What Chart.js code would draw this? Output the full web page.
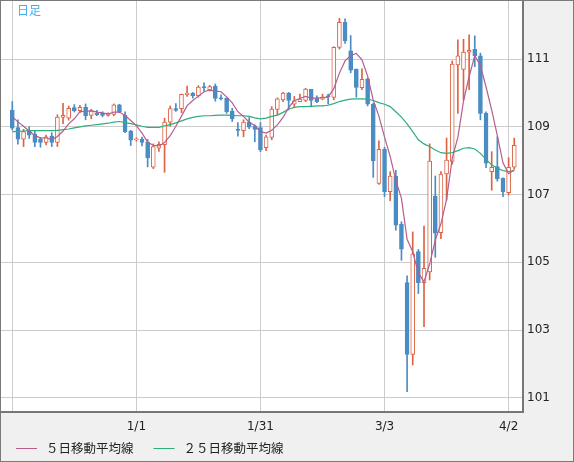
<!DOCTYPE html>
<html>
<head>
<meta charset="utf-8">
<script src="https://cdn.jsdelivr.net/npm/chart.js@4.4.1/dist/chart.umd.min.js"></script>
<style>
  html, body { margin: 0; padding: 0; background: #f0f0f0; }
  canvas { display: block; }
</style>
</head>
<body>
<canvas id="chart" width="574" height="462"></canvas>
<script>
// 日足 (daily candles), 2019/12/2 - 2020/4/3, one entry per trading day
const opens = [
    109.50, 108.98, 108.64, 108.88, 108.78, 108.64, 108.54, 108.73, 108.54, 109.28,
    109.26, 109.57, 109.48, 109.58, 109.34, 109.40, 109.40, 109.34, 109.37, 109.65,
    109.35, 108.88, 108.62, 108.64, 108.55, 107.81, 108.37, 108.48, 109.14, 109.54,
    109.54, 109.95, 110.00, 109.92, 110.19, 110.09, 110.20, 109.86, 109.85, 109.47,
    108.93, 108.89, 109.14, 109.03, 108.98, 108.39, 108.69, 109.52, 109.80, 110.00,
    109.67, 109.75, 109.78, 110.11, 109.85, 109.82, 109.92, 109.87, 111.35, 112.09,
    111.25, 110.71, 110.16, 110.42, 109.67, 107.33, 108.34, 107.09, 107.55, 106.13,
    104.40, 102.28, 105.32, 104.40, 104.72, 106.96, 105.88, 107.61, 107.98, 110.83,
    110.70, 111.21, 111.29, 111.10, 109.40, 107.68, 107.83, 107.48, 107.06, 107.81
];
const highs = [
    109.75, 109.21, 108.93, 109.01, 108.88, 108.69, 108.76, 108.83, 109.36, 109.70,
    109.62, 109.66, 109.64, 109.68, 109.52, 109.49, 109.45, 109.42, 109.68, 109.67,
    109.45, 108.90, 108.68, 108.70, 108.63, 108.50, 108.56, 109.26, 109.62, 109.69,
    109.97, 110.21, 110.02, 110.22, 110.30, 110.23, 110.27, 109.95, 109.86, 109.55,
    109.13, 109.21, 109.28, 109.06, 109.13, 108.76, 109.60, 109.86, 110.02, 110.02,
    109.90, 109.97, 110.14, 110.11, 109.92, 109.97, 109.97, 111.37, 112.21, 112.19,
    111.70, 110.71, 110.72, 110.44, 109.70, 108.59, 108.40, 107.68, 107.72, 106.20,
    104.60, 105.90, 105.38, 106.07, 108.50, 107.55, 107.68, 108.67, 110.95, 111.57,
    111.59, 111.72, 111.69, 111.18, 109.45, 108.27, 108.71, 107.50, 108.09, 108.67
];
const lows = [
    108.91, 108.49, 108.42, 108.66, 108.42, 108.40, 108.47, 108.42, 108.42, 109.10,
    109.20, 109.44, 109.42, 109.21, 109.24, 109.33, 109.30, 109.32, 109.33, 109.42,
    108.83, 108.45, 108.58, 108.44, 107.82, 107.77, 108.28, 107.66, 109.02, 109.46,
    109.42, 109.90, 109.85, 109.88, 110.05, 110.06, 109.76, 109.80, 109.40, 109.16,
    108.73, 108.71, 108.95, 108.56, 108.27, 108.30, 108.62, 109.36, 109.75, 109.50,
    109.60, 109.75, 109.75, 109.60, 109.72, 109.80, 109.67, 109.80, 111.30, 111.47,
    110.60, 109.88, 110.10, 109.62, 107.51, 107.30, 106.94, 106.82, 105.95, 105.06,
    101.18, 101.97, 104.08, 103.10, 104.48, 105.15, 105.70, 106.84, 107.90, 109.40,
    109.80, 110.10, 110.78, 109.21, 107.80, 107.13, 107.40, 106.94, 106.99, 107.75
];
const closes = [
    108.96, 108.64, 108.86, 108.76, 108.54, 108.54, 108.71, 108.54, 109.29, 109.34,
    109.55, 109.48, 109.58, 109.33, 109.47, 109.36, 109.34, 109.40, 109.65, 109.45,
    108.86, 108.61, 108.65, 108.54, 108.09, 108.42, 108.49, 109.14, 109.54, 109.49,
    109.96, 110.00, 109.92, 110.18, 110.16, 110.19, 109.84, 109.83, 109.45, 109.24,
    108.90, 109.14, 108.99, 108.93, 108.32, 108.71, 109.53, 109.83, 110.00, 109.78,
    109.77, 109.82, 110.12, 109.78, 109.75, 109.88, 109.89, 111.35, 112.09, 111.55,
    110.68, 110.17, 110.41, 109.67, 108.00, 108.34, 107.09, 107.55, 106.10, 105.39,
    102.28, 105.25, 104.40, 104.82, 107.99, 105.86, 107.61, 108.02, 110.86, 111.10,
    111.21, 111.26, 111.10, 109.40, 107.93, 107.81, 107.47, 107.09, 107.81, 108.46
];
const ma5 = [
    109.30, 109.15, 109.02, 108.88, 108.75, 108.67, 108.68, 108.62, 108.72, 108.88,
    109.09, 109.24, 109.45, 109.46, 109.48, 109.44, 109.42, 109.38, 109.44, 109.44,
    109.34, 109.19, 109.04, 108.82, 108.55, 108.46, 108.44, 108.54, 108.74, 109.02,
    109.32, 109.63, 109.78, 109.91, 110.04, 110.09, 110.06, 110.04, 109.89, 109.71,
    109.45, 109.31, 109.14, 109.04, 108.86, 108.82, 108.90, 109.06, 109.28, 109.57,
    109.78, 109.84, 109.90, 109.85, 109.85, 109.87, 109.88, 110.13, 110.59, 110.95,
    111.11, 111.17, 110.98, 110.50, 109.79, 109.32, 108.70, 108.13, 107.42, 106.89,
    105.68, 105.31, 104.68, 104.43, 104.95, 105.66, 106.14, 106.86, 108.07, 108.69,
    109.76, 110.49, 111.11, 110.81, 110.18, 109.50, 108.74, 107.94, 107.62, 107.73
];
const ma25 = [
    108.86, 108.87, 108.88, 108.89, 108.89, 108.89, 108.89, 108.89, 108.90, 108.92,
    108.94, 108.97, 109.00, 109.03, 109.05, 109.07, 109.09, 109.11, 109.14, 109.16,
    109.13, 109.10, 109.06, 109.02, 108.99, 108.99, 108.99, 109.03, 109.07, 109.12,
    109.18, 109.24, 109.28, 109.31, 109.33, 109.33, 109.34, 109.35, 109.35, 109.34,
    109.33, 109.33, 109.31, 109.27, 109.24, 109.26, 109.31, 109.35, 109.43, 109.53,
    109.58, 109.60, 109.60, 109.61, 109.62, 109.62, 109.64, 109.69, 109.75, 109.79,
    109.82, 109.83, 109.83, 109.82, 109.78, 109.72, 109.67, 109.60, 109.45, 109.29,
    109.09, 108.86, 108.62, 108.50, 108.42, 108.32, 108.24, 108.22, 108.24, 108.30,
    108.37, 108.39, 108.35, 108.22, 108.04, 107.88, 107.78, 107.71, 107.68, 107.71
];

const xTickPos = [0, 22, 44, 66, 88];
const xTickLabels = ['', '1/1', '1/31', '3/3', '4/2'];
const yTicks = [101, 103, 105, 107, 109, 111];
const legendLabels = ['５日移動平均線', '２５日移動平均線'];
const titleText = '日足';

const UP = '#dc6445';
const DOWN = '#4a8cc4';
const MA5_COLOR = '#b65d8e';
const MA25_COLOR = '#2eae78';
const GRID = '#cccccc';
const AXIS = '#777777';

const isUp = closes.map((c, i) => c >= opens[i]);
const bodies = opens.map((o, i) => ({ x: i, y: [o, closes[i]] }));
const wicks = lows.map((l, i) => ({ x: i, y: [l, highs[i]] }));

const frame = {
    id: 'frame',
    beforeDraw(chart) {
        const { ctx, chartArea: a, width, height } = chart;
        ctx.save();
        ctx.fillStyle = '#f0f0f0';
        ctx.fillRect(0, 0, width, height);
        ctx.fillStyle = '#ffffff';
        ctx.fillRect(a.left, a.top, a.right - a.left, a.bottom - a.top);
        ctx.restore();
    },
    afterDraw(chart) {
        const { ctx, chartArea: a, width, height } = chart;
        ctx.save();

        ctx.font = '12px "Noto Sans CJK JP"';
        ctx.fillStyle = '#3fb0e8';
        ctx.textBaseline = 'middle';
        ctx.fillText(titleText, a.left + 16, 10.5);

        // legend
        const colors = [MA5_COLOR, MA25_COLOR];
        const ly = 448;
        let lx = 16;
        ctx.font = '12.5px "Noto Sans CJK JP"';
        legendLabels.forEach((t, k) => {
            ctx.strokeStyle = colors[k];
            ctx.lineWidth = 1;
            ctx.beginPath();
            ctx.moveTo(lx, ly + 0.5);
            ctx.lineTo(lx + 21, ly + 0.5);
            ctx.stroke();
            ctx.fillStyle = '#222222';
            ctx.fillText(t, lx + 30, ly);
            lx += 30 + ctx.measureText(t).width + 20;
        });

        ctx.strokeStyle = '#7a7a7a';
        ctx.lineWidth = 1;
        ctx.strokeRect(0.5, 0.5, width - 1, height - 1);
        ctx.restore();
    }
};

const ctx = document.getElementById('chart').getContext('2d');
const candleChart = new Chart(ctx, {
    type: 'bar',
    data: {
        datasets: [{
            type: 'line',
            label: legendLabels[0],
            data: ma5.map((v, i) => ({ x: i, y: v })),
            borderColor: MA5_COLOR,
            borderWidth: 1.2,
            pointRadius: 0,
            order: 0
        }, {
            type: 'line',
            label: legendLabels[1],
            data: ma25.map((v, i) => ({ x: i, y: v })),
            borderColor: MA25_COLOR,
            borderWidth: 1.2,
            pointRadius: 0,
            order: 0
        }, {
            label: 'body',
            data: bodies,
            backgroundColor: isUp.map(u => u ? '#ffffff' : DOWN),
            borderColor: isUp.map(u => u ? UP : DOWN),
            borderWidth: 1,
            borderSkipped: false,
            barThickness: 4,
            grouped: false,
            order: 1
        }, {
            label: 'wick',
            data: wicks,
            backgroundColor: isUp.map(u => u ? UP : DOWN),
            borderWidth: 0,
            barThickness: 1,
            grouped: false,
            order: 2
        }]
    },
    options: {
        responsive: false,
        animation: false,
        events: [],
        layout: { padding: { top: 1, left: 1, right: 1, bottom: 0 } },
        plugins: {
            legend: { display: false },
            tooltip: { enabled: false }
        },
        scales: {
            x: {
                type: 'linear',
                min: -2,
                max: 90.55,
                offset: false,
                grid: { color: GRID, lineWidth: 1, drawTicks: false, offset: false },
                border: { display: true, color: AXIS, width: 2 },
                ticks: {
                    font: { family: 'DejaVu Sans', size: 12 },
                    color: '#222222',
                    padding: 8,
                    maxRotation: 0,
                    autoSkip: false,
                    callback: (v, i) => xTickLabels[i]
                },
                afterBuildTicks: s => { s.ticks = xTickPos.map(v => ({ value: v })); },
                afterFit: s => { s.height = 50; s.paddingLeft = 0; s.paddingRight = 0; }
            },
            y: {
                type: 'linear',
                position: 'right',
                min: 100.58,
                max: 112.72,
                grid: { color: GRID, lineWidth: 1, drawTicks: false },
                border: { display: true, color: AXIS, width: 2 },
                ticks: {
                    font: { family: 'DejaVu Sans', size: 12 },
                    color: '#222222',
                    padding: 4,
                    callback: v => String(v)
                },
                afterBuildTicks: s => { s.ticks = yTicks.map(v => ({ value: v })); },
                afterFit: s => { s.width = 50; s.paddingTop = 0; s.paddingBottom = 0; }
            }
        }
    },
    plugins: [frame]
});
</script>
</body>
</html>
